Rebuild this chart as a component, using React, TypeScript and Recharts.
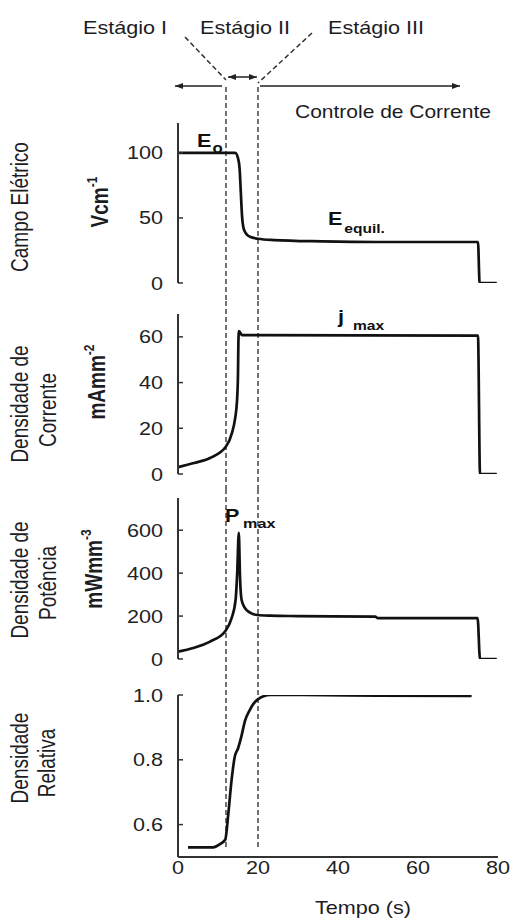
import { LineChart, Line, XAxis, YAxis, ReferenceLine, ReferenceDot } from 'recharts';

// time axis (s) and the two stage boundaries
const timeTicks = [0, 20, 40, 60, 80];
const stageBounds = [12, 20];

// Campo Elétrico (V/cm)
const fieldTime = [0, 14.3, 15.0, 15.4, 15.7, 16.0, 16.4, 17.0, 18.0, 20, 24, 36, 50, 75, 75.4, 79.7];
const fieldValue = [100, 100, 96, 88, 70, 52, 42, 38, 35.5, 34, 33, 32, 31.5, 31.5, 0, 0];

// Densidade de Corrente (mA/mm2)
const currentTime = [0, 4, 8, 12, 13.5, 14.25, 14.75, 15.0, 15.1, 15.25, 16, 75, 75.5, 79.7];
const currentValue = [3, 4.8, 7, 12, 18, 24, 32, 44, 58, 62.5, 60.8, 60.5, 0, 0];

// Densidade de Potência (mW/mm3)
const powerTime = [0, 3.8, 8, 11.75, 13.4, 14.4, 14.8, 15.2, 15.5, 15.9, 16.75, 18, 19.8, 23, 30, 49.3, 50, 74.9, 75.5, 79.7];
const powerValue = [34, 51, 81, 128, 190, 275, 400, 588, 383, 275, 237, 216, 205, 202, 200, 197, 190, 190, 0, 0];

// Densidade Relativa
const densityTime = [2.5, 8.8, 10.5, 11.8, 12.6, 13.4, 14.2, 15.0, 15.8, 16.75, 18, 19.8, 23, 30, 50, 73.4];
const densityValue = [0.53, 0.53, 0.54, 0.553, 0.636, 0.738, 0.81, 0.835, 0.87, 0.92, 0.955, 0.985, 1.0, 1.0, 0.998, 0.997];

const FONT = '"Liberation Sans", Arial, sans-serif';
const INK = '#1c1c24';
const SX = 1.2; // the source figure is stretched horizontally

const PLOT_LEFT = 178;
const PLOT_W = 320;
const tx = (t: number) => PLOT_LEFT + (t * PLOT_W) / 80;

function SText({ x, y, size = 18, weight = 'normal', anchor = 'start', children, fill = INK }: any) {
  return (
    <g transform={`translate(${x},${y}) scale(${SX},1)`}>
      <text x={0} y={0} fontSize={size} fontWeight={weight} textAnchor={anchor} fill={fill} fontFamily={FONT}>
        {children}
      </text>
    </g>
  );
}

function VText({ x, y, size = 19, weight = 'normal', children }: any) {
  return (
    <g transform={`translate(${x},${y}) scale(1.25,1) rotate(-90)`}>
      <text x={0} y={0} fontSize={size} fontWeight={weight} textAnchor="middle" dominantBaseline="central" fill={INK} fontFamily={FONT}>
        {children}
      </text>
    </g>
  );
}

function Unit({ x, y, base, exp }: any) {
  return (
    <VText x={x} y={y} size={19} weight="bold">
      {base}
      <tspan dy={-7} fontSize={12}>{exp}</tspan>
    </VText>
  );
}

function SubLabel({ cx, cy, main, sub, gap, drop, subSize = 13 }: any) {
  return (
    <g transform={`translate(${cx},${cy}) scale(${SX},1)`}>
      <text x={0} y={0} fontSize={18} fontWeight="bold" fill="#111" fontFamily={FONT}>
        {main}
        <tspan dx={gap} dy={drop} fontSize={subSize}>{sub}</tspan>
      </text>
    </g>
  );
}

const makeYTick = (fmt: (v: number) => string) => (props: any) => {
  const { x, y, payload } = props;
  return (
    <g>
      <line x1={x + 15} x2={x + 20} y1={y} y2={y} stroke="#333" strokeWidth={1.5} />
      <SText x={x} y={y + 6.5} anchor="end" fill="#222">{fmt(payload.value)}</SText>
    </g>
  );
};

const XTick = (props: any) => {
  const { x, y, payload } = props;
  return <SText x={x} y={y + 13} anchor="middle" fill="#222">{payload.value}</SText>;
};

const panels = [
  {
    key: 'field', time: fieldTime, value: fieldValue, top: 86, height: 214, mt: 37, mb: 17,
    domain: [0, 123], ticks: [0, 50, 100], fmt: (v: number) => String(v), guide: [-13, 151.5],
    notes: [
      { t: 4.75, v: 104.6, main: 'E', sub: 'o', gap: 1, drop: 6, subSize: 14 },
      { t: 37.5, v: 44.6, main: 'E', sub: 'equil.', gap: 1.5, drop: 8, subSize: 13 },
    ],
  },
  {
    key: 'current', time: currentTime, value: currentValue, top: 300, height: 190, mt: 14, mb: 16,
    domain: [0, 70], ticks: [0, 20, 40, 60], fmt: (v: number) => String(v), guide: [-7, 76.1],
    notes: [{ t: 40, v: 66, main: 'j', sub: 'max', gap: 7.5, drop: 7, subSize: 13 }],
  },
  {
    key: 'power', time: powerTime, value: powerValue, top: 490, height: 180, mt: 8, mb: 11,
    domain: [0, 750], ticks: [0, 200, 400, 600], fmt: (v: number) => String(v), guide: [-51, 787],
    notes: [{ t: 11.75, v: 638, main: 'P', sub: 'max', gap: 3, drop: 6, subSize: 13.5 }],
  },
  {
    key: 'density', time: densityTime, value: densityValue, top: 670, height: 252, mt: 25, mb: 15,
    domain: [0.5, 1.0], ticks: [0.6, 0.8, 1.0], fmt: (v: number) => v.toFixed(1), guide: [0.531, 1.077],
    notes: [],
    last: true,
  },
];

function Panel({ p }: any) {
  const rows = p.time.map((t: number, i: number) => ({ t, v: p.value[i] }));
  return (
    <div style={{ position: 'absolute', left: 0, top: p.top }}>
      <LineChart width={512} height={p.height} data={rows} margin={{ top: p.mt, right: 14, bottom: p.mb, left: 0 }}>
        <XAxis
          type="number"
          dataKey="t"
          domain={[0, 80]}
          ticks={timeTicks}
          allowDataOverflow
          height={p.last ? 50 : 0}
          tick={p.last ? XTick : false}
          tickLine={false}
          tickSize={0}
          tickMargin={4}
          axisLine={{ stroke: '#333', strokeWidth: 2 }}
        />
        <YAxis
          type="number"
          domain={p.domain}
          ticks={p.ticks}
          allowDataOverflow
          width={178}
          tickSize={0}
          tickMargin={15}
          tickLine={false}
          tick={makeYTick(p.fmt)}
          axisLine={{ stroke: '#333', strokeWidth: 2 }}
        />
        {stageBounds.map(b => (
          <ReferenceLine
            key={b}
            segment={[{ x: b, y: p.guide[0] }, { x: b, y: p.guide[1] }]}
            ifOverflow="visible"
            stroke="#444"
            strokeWidth={1.5}
            strokeDasharray="5 3"
          />
        ))}
        <Line dataKey="v" type="monotone" stroke="#111" strokeWidth={2.7} dot={false} isAnimationActive={false} />
        {p.notes.map((n: any) => (
          <ReferenceDot
            key={n.main + n.sub}
            x={n.t}
            y={n.v}
            r={0}
            ifOverflow="visible"
            shape={(s: any) => <SubLabel cx={s.cx} cy={s.cy} main={n.main} sub={n.sub} gap={n.gap} drop={n.drop} subSize={n.subSize} />}
          />
        ))}
      </LineChart>
    </div>
  );
}

function Arrow({ x1, x2, y, both = false }: any) {
  const head = (x: number, dir: number) => (
    <polygon points={`${x},${y} ${x - dir * 8},${y - 3} ${x - dir * 8},${y + 3}`} fill="#222" />
  );
  const dir = x2 > x1 ? 1 : -1;
  return (
    <g>
      <line x1={x1} x2={x2} y1={y} y2={y} stroke="#222" strokeWidth={1.5} />
      {head(x2, dir)}
      {both && head(x1, -dir)}
    </g>
  );
}

export default function App() {
  return (
    <div style={{ position: 'absolute', left: 0, top: 0, width: 512, height: 922, background: '#fff', fontFamily: FONT }}>
      {panels.map(p => (
        <Panel key={p.key} p={p} />
      ))}
      <svg width={512} height={922} style={{ position: 'absolute', left: 0, top: 0, pointerEvents: 'none' }}>
        {/* stage header */}
        <SText x={83} y={34}>Estágio I</SText>
        <SText x={200} y={34}>Estágio II</SText>
        <SText x={328} y={34}>Estágio III</SText>
        <line x1={185} y1={37} x2={tx(stageBounds[0])} y2={80} stroke="#333" strokeWidth={1.5} strokeDasharray="5 3" />
        <line x1={312} y1={33} x2={tx(stageBounds[1])} y2={83} stroke="#333" strokeWidth={1.5} strokeDasharray="5 3" />
        <Arrow x1={tx(stageBounds[0]) + 2} x2={tx(stageBounds[1]) - 1} y={77} both />
        <Arrow x1={tx(stageBounds[0]) - 4} x2={175} y={86} />
        <Arrow x1={tx(stageBounds[1]) + 2} x2={460} y={86} />
        <SText x={295} y={118} size={17.5}>Controle de Corrente</SText>

        {/* row titles */}
        <VText x={20} y={207}>Campo Elétrico</VText>
        <VText x={20} y={404}>Densidade de</VText>
        <VText x={48} y={410}>Corrente</VText>
        <VText x={20} y={580}>Densidade de</VText>
        <VText x={48} y={583}>Potência</VText>
        <VText x={20} y={758}>Densidade</VText>
        <VText x={47} y={763}>Relativa</VText>

        {/* units */}
        <Unit x={100} y={202} base="Vcm" exp="-1" />
        <Unit x={97} y={382} base="mAmm" exp="-2" />
        <Unit x={94} y={569} base="mWmm" exp="-3" />

        <SText x={363} y={914} anchor="middle">Tempo (s)</SText>
      </svg>
    </div>
  );
}
